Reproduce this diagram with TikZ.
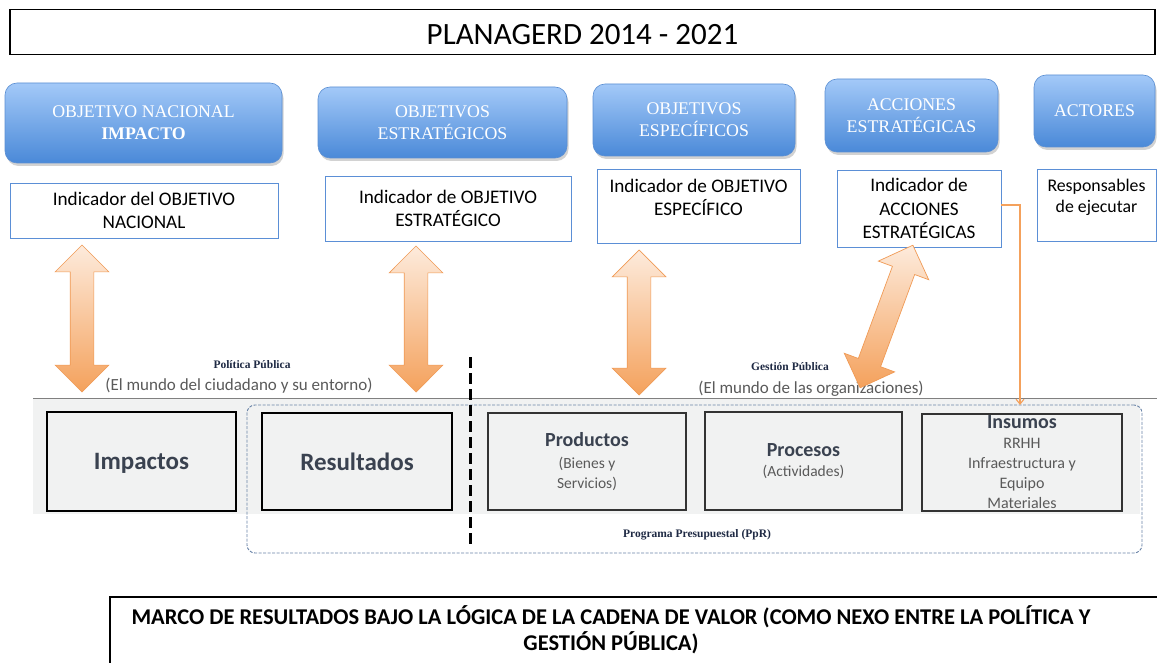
\documentclass[tikz,border=0pt]{standalone}
\usepackage{fontspec}
\setmainfont{Carlito}
\newfontfamily\serifcam{Liberation Serif}
\usetikzlibrary{shapes.arrows,shadows,arrows.meta}
\definecolor{bluetop}{HTML}{A3C9F8}
\definecolor{bluebot}{HTML}{4A89D8}
\definecolor{blueedge}{HTML}{5B8FD3}
\definecolor{indedge}{HTML}{5B8FD6}
\definecolor{arrdark}{HTML}{F4A15C}
\definecolor{arrlight}{HTML}{FDEBDC}
\definecolor{arredge}{HTML}{F09A55}
\definecolor{bandgray}{HTML}{F1F2F2}
\definecolor{boxtext}{HTML}{3A4250}
\definecolor{softtext}{HTML}{5A5A5A}
\definecolor{dashblue}{HTML}{6A84A8}
\definecolor{navy}{HTML}{1F2A44}
\begin{document}
\begin{tikzpicture}[x=1pt,y=-1pt,
  headbox/.style={rounded corners=12pt, top color=bluetop, bottom color=bluebot, draw=blueedge, line width=0.6pt, text=white, align=center, inner sep=0pt, font=\serifcam\fontsize{17.8}{22}\selectfont, drop shadow={shadow xshift=1.5pt, shadow yshift=-3pt, opacity=0.35}},
  indbox/.style={draw=indedge, line width=0.8pt, fill=white, inner sep=0pt, align=center, font=\fontsize{19.2}{23.5}\selectfont},
  indtext/.style={align=center, font=\fontsize{19.2}{23.5}\selectfont, inner sep=0pt},
  fatarrow/.style={double arrow, double arrow head extend=15pt, double arrow tip angle=90, inner xsep=0pt, inner ysep=11.5pt, top color=arrlight, bottom color=arrdark, draw=arredge, line width=0.7pt},
  chainbox/.style={draw=black, line width=2.8pt, fill=bandgray, inner sep=0pt, align=center, text=boxtext, text depth=0pt},
  chainthin/.style={draw=black!80, line width=1.4pt, fill=bandgray, inner sep=0pt, align=center, text=boxtext},
  worldtext/.style={font=\fontsize{17}{20}\selectfont, text=softtext, inner sep=0pt},
  smalllabel/.style={font=\serifcam\bfseries\fontsize{11.5}{13}\selectfont, text=navy, inner sep=0pt},
  orangeline/.style={draw=arrdark, line width=1.1pt}
]
\useasboundingbox (0,0) rectangle (1157,663);
\fill[white] (0,0) rectangle (1157,663);

% title
\node[draw, line width=1.3pt, minimum width=1145, minimum height=45, inner sep=0pt, font=\fontsize{31}{36}\selectfont] (title) at (582.5,32) {};
\node[inner sep=0pt, font=\fontsize{31}{36}\selectfont, text depth=0pt] (titletext) at (582.5,34.5) {PLANAGERD 2014 - 2021};

% header boxes
\node[headbox, minimum width=277, minimum height=80] (h1) at (143.5,123) {OBJETIVO NACIONAL\\\textbf{IMPACTO}};
\node[headbox, minimum width=249, minimum height=71] (h2) at (442.5,122.5) {OBJETIVOS\\ESTRATÉGICOS};
\node[headbox, minimum width=202, minimum height=72] (h3) at (694,120) {OBJETIVOS\\ESPECÍFICOS};
\node[headbox, minimum width=173, minimum height=73] (h4) at (911.5,115.5) {ACCIONES\\ESTRATÉGICAS};
\node[headbox, minimum width=121, minimum height=72] (h5) at (1094.5,111) {ACTORES};

% indicator boxes
\node[indbox, minimum width=268, minimum height=55] (i1) at (144,210.5) {Indicador del OBJETIVO\\NACIONAL};
\node[indbox, minimum width=246, minimum height=65] (i2) at (448,208.5) {Indicador de OBJETIVO\\ESTRATÉGICO};
\node[indbox, minimum width=203, minimum height=74] (i3) at (698.5,206) {};
\node[indtext, anchor=north] (t3) at ([yshift=-10pt]i3.north) {Indicador de OBJETIVO\\ESPECÍFICO};
\node[indbox, minimum width=164, minimum height=77] (i4) at (919,208.5) {Indicador de\\ACCIONES\\ESTRATÉGICAS};
\node[indbox, minimum width=119, minimum height=72] (i5) at (1096.5,205) {};
\node[indtext, anchor=north, font=\fontsize{17.8}{21.5}\selectfont] (t5) at ([yshift=-10pt]i5.north) {Responsables\\de ejecutar};

% band
\fill[bandgray] (33,399) rectangle (1140,514);
\draw[black!50, line width=0.8pt] (33,398) -- (1157,398);

% dashed program frame
\node[draw=dashblue, line width=0.9pt, dash pattern=on 3pt off 1.5pt, rounded corners=8pt, minimum width=895, minimum height=148, inner sep=0pt] (ppr) at (694.5,479) {};

% chain boxes
\node[chainbox, minimum width=189, minimum height=99, font=\bfseries\fontsize{25}{30}\selectfont] (imp) at (141.5,461.5) {Impactos};
\node[chainbox, minimum width=190, minimum height=97, font=\bfseries\fontsize{25}{30}\selectfont] (res) at (357,461.5) {Resultados};
\node[chainthin, minimum width=198, minimum height=97, font=\fontsize{15.5}{19.5}\selectfont] (prod) at (587,461.5) {{\bfseries\fontsize{20}{23}\selectfont Productos}\\[3pt]{\color{softtext}(Bienes y}\\{\color{softtext}Servicios)}};
\node[chainthin, minimum width=197, minimum height=98, font=\fontsize{15.5}{20}\selectfont] (proc) at (803.5,461) {{\bfseries\fontsize{20}{23}\selectfont Procesos}\\{\color{softtext}(Actividades)}};
\node[chainthin, minimum width=200, minimum height=97, font=\fontsize{16}{20}\selectfont] (ins) at (1022,462.5) {{\bfseries\fontsize{20}{23}\selectfont Insumos}\\{\color{softtext}RRHH}\\{\color{softtext}Infraestructura y}\\{\color{softtext}Equipo}\\{\color{softtext}Materiales}};

% divider
\draw[black, line width=3pt, dash pattern=on 11pt off 5pt] (470,357) -- (470,545);

% labels
\node[smalllabel] (pp) at (252,365) {Política Pública};
\node[worldtext] (pw) at (239,386) {(El mundo del ciudadano y su entorno)};
\node[smalllabel] (gp) at (790,367) {Gestión Pública};
\node[worldtext] (gw) at (811,389) {(El mundo de las organizaciones)};
\node[smalllabel] (pl) at (697,535) {Programa Presupuestal (PpR)};

% fat arrows
\node[fatarrow, minimum height=147, rotate=90] (a1) at (82,318.5) {};
\node[fatarrow, minimum height=146, rotate=90] (a2) at (416,319) {};
\node[fatarrow, minimum height=145, rotate=90] (a3) at (639,322.5) {};
\node[fatarrow, minimum height=152, rotate=69.7] (a4) at (886.5,316.5) {};

% orange connector
\coordinate (insin) at (1020,405);
\draw[orangeline, -{Straight Barb[length=5pt,width=8pt]}] ([yshift=3.5pt]i4.east) -| (insin);

% bottom caption
\draw[black, line width=1.2pt] (1170,597) -- (110,597) -- (110,680);
\node[font=\bfseries\fontsize{22.5}{26}\selectfont, align=center, inner sep=0pt] (cap) at (611,630) {MARCO DE RESULTADOS BAJO LA LÓGICA DE LA CADENA DE VALOR (COMO NEXO ENTRE LA POLÍTICA Y\\GESTIÓN PÚBLICA)};
\end{tikzpicture}
\end{document}
